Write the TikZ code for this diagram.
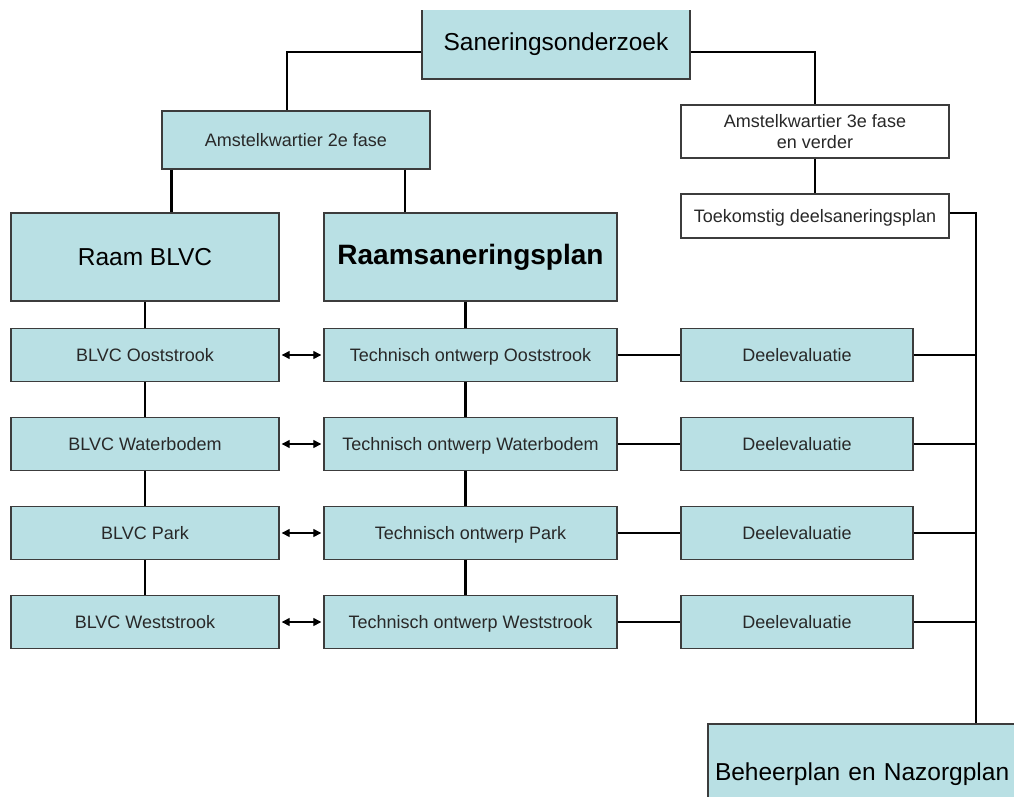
\documentclass[tikz,border=0pt]{standalone}
\usepackage{fontspec}
\setmainfont{Liberation Sans}
\usetikzlibrary{arrows.meta}

\definecolor{boxfill}{RGB}{185,224,228}
\definecolor{boxline}{RGB}{60,60,60}
\definecolor{boxtext}{RGB}{40,40,40}

\tikzset{
  box/.style={draw=boxline, line width=1.4pt, fill=boxfill, inner sep=0pt,
    align=center, text=boxtext, font=\fontsize{18}{21}\selectfont},
  oneline/.style={text height=16pt, text depth=3pt},
  whitebox/.style={box, fill=white},
  bigbox/.style={box, text=black, font=\fontsize{24.5}{28}\selectfont},
  conn/.style={draw=black, line width=2.4pt},
  twoway/.style={draw=black, line width=1.3pt,
    {Triangle[length=8pt,width=8pt]}-{Triangle[length=8pt,width=8pt]}}
}

\begin{document}
\begin{tikzpicture}[x=1pt,y=-1pt]
\useasboundingbox (0,0) rectangle (1014,797);
\clip (0,11) rectangle (1014,797);

% A. top of the tree
\node[bigbox, minimum width=268, minimum height=70] (sano) at (556,44) {Saneringsonderzoek};
\node[box, oneline, minimum width=268, minimum height=58] (fase2) at (296,140) {Amstelkwartier 2e fase};
\node[whitebox, minimum width=268, minimum height=53] (fase3) at (815,131.5) {Amstelkwartier 3e fase\\en verder};
\node[whitebox, oneline, minimum width=268, minimum height=44] (toek) at (815,216) {Toekomstig deelsaneringsplan};

% B. the two frames
\node[bigbox, minimum width=268, minimum height=88] (raamblvc) at (145,257) {Raam BLVC};
\node[box, text=black, minimum width=293, minimum height=88, font=\fontsize{28}{32}\selectfont\bfseries] (raamplan) at (470.5,257) {Raamsaneringsplan};

% C. rows per area
\foreach \i/\area/\y in {1/Ooststrook/355, 2/Waterbodem/444, 3/Park/533, 4/Weststrook/622} {
  \node[box, oneline, minimum width=268, minimum height=53] (blvc\i) at (145,\y) {BLVC \area};
  \node[box, oneline, minimum width=293, minimum height=53] (tech\i) at (470.5,\y) {Technisch ontwerp \area};
  \node[box, oneline, minimum width=232, minimum height=53] (deel\i) at (797,\y) {Deelevaluatie};
}

% D. end of the line
\node[bigbox, minimum width=314, minimum height=100, align=left, text width=300, inner xsep=7pt] (beheer) at (865,774) {Beheerplan en Nazorgplan};
\coordinate (bus) at (976,213);

% E. connectors
\draw[conn] ([yshift=-8pt]sano.west) -| ([xshift=-9pt]fase2.north);
\draw[conn] ([yshift=-8pt]sano.east) -| (fase3.north);
\draw[conn] (fase3.south) -- (toek.north);
\draw[conn] ([xshift=10pt]fase2.south west) coordinate (f2a) -- (f2a |- raamblvc.north);
\draw[conn] ([xshift=-26pt]fase2.south east) coordinate (f2b) -- (f2b |- raamplan.north);
\draw[conn] (raamblvc.south) -- (blvc1.north);
\draw[conn] ([xshift=-5pt]raamplan.south) -- ([xshift=-5pt]tech1.north);
\foreach \i/\j in {1/2, 2/3, 3/4} {
  \draw[conn] (blvc\i.south) -- (blvc\j.north);
  \draw[conn] ([xshift=-5pt]tech\i.south) -- ([xshift=-5pt]tech\j.north);
}
\foreach \i in {1,...,4} {
  \draw[twoway] ([xshift=2pt]blvc\i.east) -- ([xshift=-2pt]tech\i.west);
  \draw[conn] (tech\i.east) -- (deel\i.west);
  \draw[conn] (deel\i.east) -- (deel\i.east -| bus);
}
\draw[conn] (toek.east |- bus) -- (bus) -- (bus |- beheer.north);

\end{tikzpicture}
\end{document}
